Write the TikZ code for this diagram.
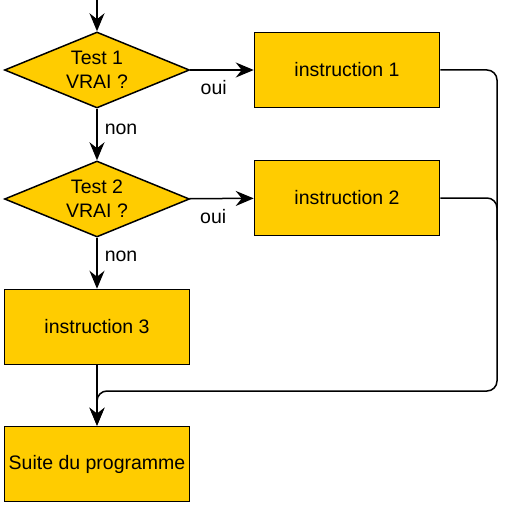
\documentclass[tikz,border=0pt]{standalone}
\usepackage{fontspec}
\setmainfont{Liberation Sans}
\usetikzlibrary{positioning,arrows.meta,shapes.geometric}
\definecolor{jaune}{HTML}{FFCC00}

\begin{document}
\begin{tikzpicture}[x=1pt, y=-1pt,
  every node/.style={font=\fontsize{19.5}{24}\selectfont},
  boite/.style={draw, fill=jaune, line width=1.5pt, minimum width=185pt,
    minimum height=75pt, inner sep=0pt},
  losange/.style={diamond, draw, fill=jaune, line width=1.5pt, shape aspect=2.47,
    minimum width=185pt, minimum height=76pt, inner sep=0pt, align=center},
  fleche/.style={line width=1.5pt, -{Stealth[length=18pt, width=15pt, inset=6pt]}},
  trait/.style={line width=1.5pt, rounded corners=10pt},
  etiq/.style={inner sep=0pt}]
  %----- cadre -----
  \useasboundingbox (0,0) rectangle (505,508);

  %----- tests et instructions -----
  \coordinate (entree) at (97,0);
  \node[losange] (test1) at (97,70)  {Test 1\\VRAI ?};
  \node[losange] (test2) at (97,199) {Test 2\\VRAI ?};
  \node[boite]   (ins1)  at (347,70)  {instruction 1};
  \node[boite]   (ins2)  at (347,198) {instruction 2};
  \node[boite]   (ins3)  at (97,327)  {instruction 3};
  \node[boite]   (suite) at (97,464)  {Suite du programme};
  \coordinate (coin) at (497,391);
  \coordinate (jonction) at (497,240);

  %----- fleches -----
  \draw[fleche] (entree) -- (test1);
  \draw[fleche] (test1) -- node[etiq, pos=0.37, below=10pt] {oui} (ins1);
  \draw[fleche] (test1) -- node[etiq, pos=0.4, right=7pt] {non} (test2);
  \draw[fleche] (test2) -- node[etiq, pos=0.37, below=10pt] {oui} (ins2);
  \draw[fleche] (test2) -- node[etiq, pos=0.37, right=7pt] {non} (ins3);
  \draw[fleche] (ins3) -- (suite);

  %----- retour vers la suite -----
  \draw[trait, fleche] (ins1.east) -| (coin) -| (suite.north);
  \draw[trait] (ins2.east) -| (jonction);
\end{tikzpicture}
\end{document}
